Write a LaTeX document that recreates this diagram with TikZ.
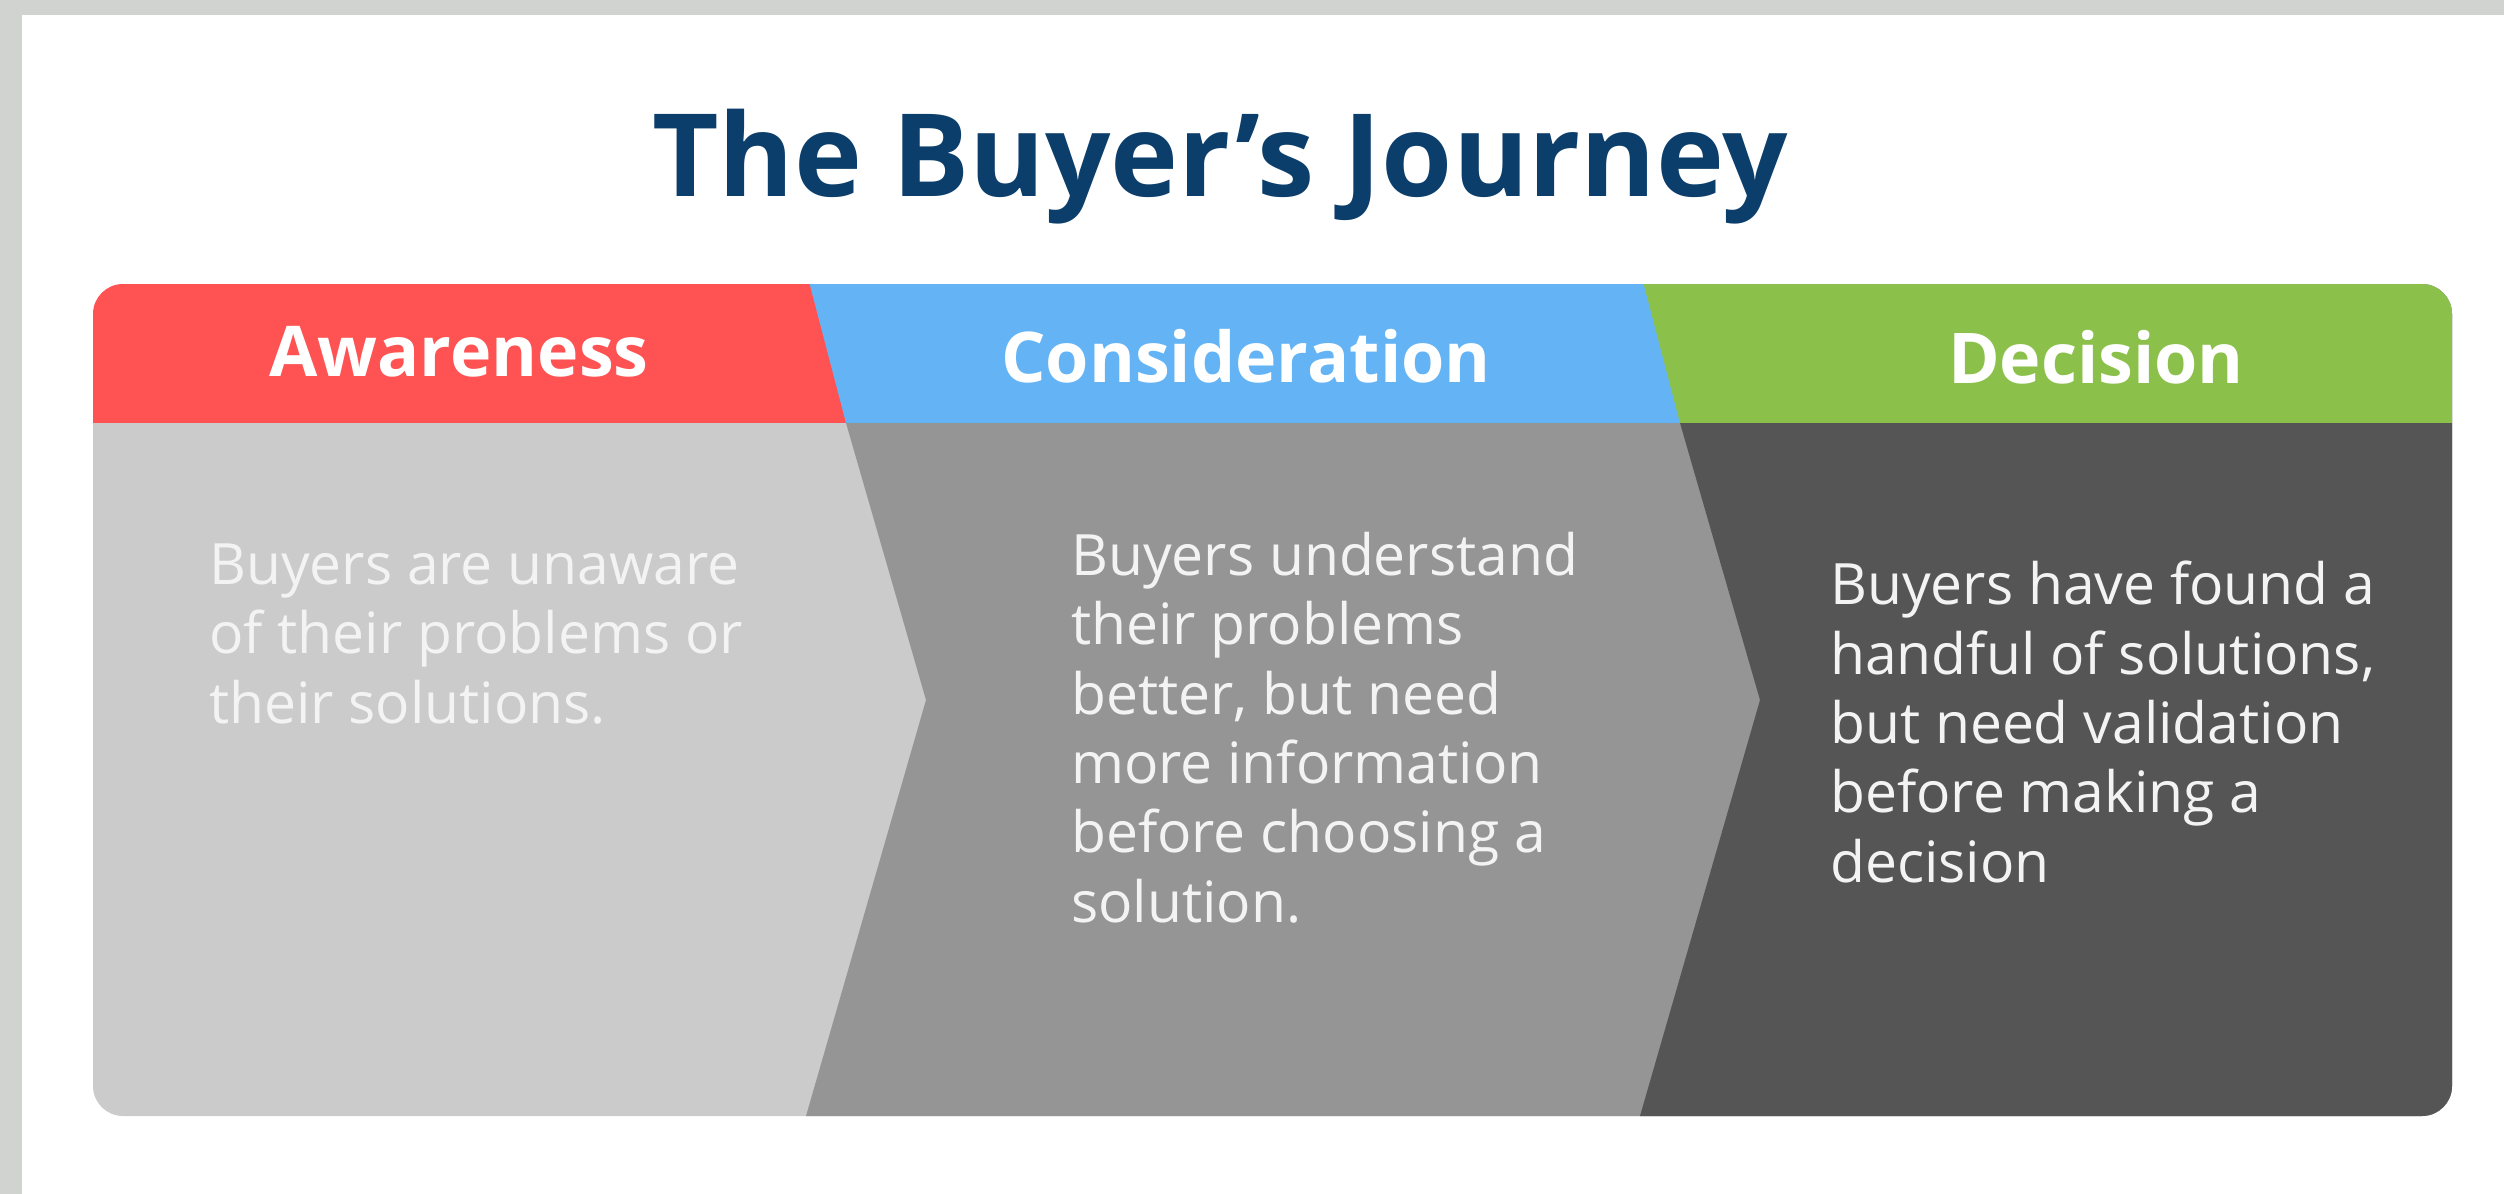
\documentclass[tikz,border=0pt]{standalone}
\usepackage{fontspec}
\setmainfont{Open Sans}
\definecolor{bggray}{HTML}{D0D3CF}
\definecolor{titleblue}{HTML}{0C3E6B}
\definecolor{hdrred}{HTML}{FF5353}
\definecolor{hdrblue}{HTML}{64B4F5}
\definecolor{hdrgreen}{HTML}{8BC14A}
\definecolor{bodylight}{HTML}{CBCBCB}
\definecolor{bodymid}{HTML}{959595}
\definecolor{bodydark}{HTML}{555555}
\definecolor{bodytext}{HTML}{F3F3F3}
\tikzset{
  titletext/.style={font=\bfseries\fontsize{115}{130}\selectfont, text=titleblue, inner sep=0pt, anchor=base},
  hdrtext/.style={font=\bfseries\fontsize{70}{80}\selectfont, text=white, inner sep=0pt, anchor=base},
  bodytxt/.style={font=\fontsize{57}{69.3}\selectfont, text=bodytext, inner sep=0pt, align=left, anchor=base west},
}
\begin{document}
\begin{tikzpicture}[x=1pt,y=-1pt]
\useasboundingbox (0,0) rectangle (2504,1194);
\fill[bggray] (0,0) rectangle (2504,1194);
\fill[white] (22,15) rectangle (2504,1194);
% title
\node[titletext] (title) at (1220,196) {The Buyer’s Journey};
% stage panels
\begin{scope}
\clip[rounded corners=30pt] (93,284) rectangle (2452,1116);
\fill[hdrred] (80,270) rectangle (2470,423);
\fill[hdrblue] (806,270) -- (2470,270) -- (2470,423) -- (846,423) -- cycle;
\fill[hdrgreen] (1640,270) -- (2470,270) -- (2470,423) -- (1680,423) -- cycle;
\fill[bodylight] (80,423) rectangle (2470,1130);
\fill[bodymid] (846,423) -- (2470,423) -- (2470,1130) -- (806,1130) -- (806,1116) -- (926,700) -- cycle;
\fill[bodydark] (1680,423) -- (2470,423) -- (2470,1130) -- (1640,1130) -- (1640,1116) -- (1760,700) -- cycle;
\end{scope}
% headers
\node[hdrtext] (aw) at (459,376) {Awareness};
\node[hdrtext] (co) at (1246,382) {Consideration};
\node[hdrtext] (de) at (2096,383) {Decision};
% bodies (base anchor = baseline of last line)
\node[bodytxt] (awb) at (209,723) {Buyers are unaware\\of their problems or\\their solutions.};
\node[bodytxt] (cob) at (1071,922) {Buyers understand\\their problems\\better, but need\\more information\\before choosing a\\solution.};
\node[bodytxt] (deb) at (1830,882) {Buyers have found a\\handful of solutions,\\but need validation\\before making a\\decision};
\end{tikzpicture}
\end{document}
